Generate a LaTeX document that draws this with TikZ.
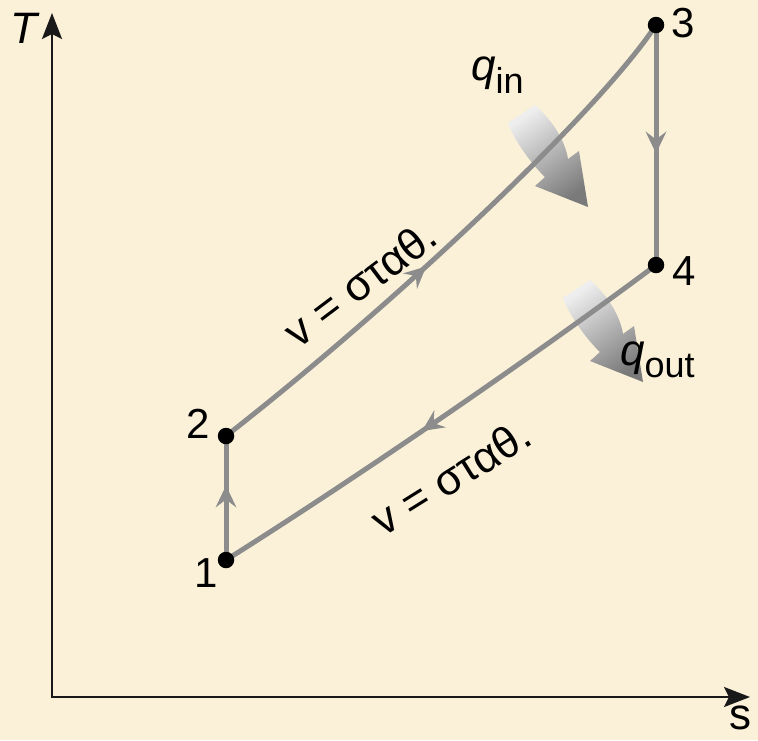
\documentclass[tikz,border=0pt]{standalone}
\usepackage{fontspec}
\setmainfont{Liberation Sans}
\usetikzlibrary{arrows.meta,decorations.markings,shadings}
\definecolor{bg}{RGB}{251,241,216}
\definecolor{cyc}{RGB}{140,140,140}
\definecolor{axc}{RGB}{25,25,25}
\definecolor{shlight}{RGB}{238,238,238}
\definecolor{shdark}{RGB}{122,122,122}
\begin{document}
\begin{tikzpicture}[x=1pt,y=-1pt,
  cycline/.style={draw=cyc,line width=5pt},
  midarrow/.style={postaction={decorate,decoration={markings,mark=at position #1 with {\fill[cyc] (0pt,0pt) -- (-22pt,10.5pt) .. controls (-17pt,4pt) .. (-14pt,0pt) .. controls (-17pt,-4pt) .. (-22pt,-10.5pt) -- cycle;}}}},
  dot/.style={circle,fill=black,inner sep=0pt,minimum size=16.5pt},
  num/.style={font=\fontsize{42}{42}\selectfont},
  axlab/.style={font=\fontsize{44}{44}\selectfont},
  axline/.style={draw=axc,line width=2.5pt,line join=miter},
  cyctext/.style={font=\fontsize{44}{44}\selectfont,inner sep=0pt},
  qlab/.style={font=\fontsize{44}{44}\selectfont,inner sep=0pt,anchor=base west},
  heat/.style={top color=shlight,bottom color=shdark,shading angle=35}
]
\useasboundingbox (0,0) rectangle (758,740);
\fill[bg] (0,0) rectangle (758,740);

% axes
\coordinate (ytip) at (52,13);
\coordinate (org) at (52,697);
\coordinate (xtip) at (750,697);
\draw[axline,{Stealth[length=26pt,width=20pt,inset=5pt]}-{Stealth[length=26pt,width=20pt,inset=5pt]}] (ytip) -- (org) -- (xtip);
\node[axlab] (T) at (25,28) {\textit{T}};
\node[axlab] (s) at (740,718) {s};

% state points
\coordinate (c1) at (226,560);
\coordinate (c2) at (226,436);
\coordinate (c3) at (656,25);
\coordinate (c4) at (656,265);

% heat arrows
\shade[heat] (508,123) -- (535,105) .. controls (552,120) and (565,140) .. (568,159) -- (579,151) -- (588,207) -- (535,186) -- (545,177) .. controls (532,165) and (514,140) .. (508,123) -- cycle;
\begin{scope}[shift={(55,175)}]
\shade[heat] (508,123) -- (535,105) .. controls (552,120) and (565,140) .. (568,159) -- (579,151) -- (588,207) -- (535,186) -- (545,177) .. controls (532,165) and (514,140) .. (508,123) -- cycle;
\end{scope}

% cycle
\draw[cycline,midarrow=0.60] (c1) -- (c2);
\draw[cycline,midarrow=0.44] (c2) .. controls (400,300) and (600,110) .. (c3);
\draw[cycline,midarrow=0.535] (c3) -- (c4);
\draw[cycline,midarrow=0.55] (c4) .. controls (560,337) and (380,463) .. (c1);

\node[dot] (p1) at (c1) {};
\node[dot] (p2) at (c2) {};
\node[dot] (p3) at (c3) {};
\node[dot] (p4) at (c4) {};
\node[num] (n1) at (206,573) {1};
\node[num] (n2) at (198,424) {2};
\node[num] (n3) at (683,23) {3};
\node[num] (n4) at (684,271) {4};

\node[cyctext,rotate=37] (v1) at (360,283) {v = σταθ.};
\node[cyctext,rotate=32] (v2) at (451,477) {v = σταθ.};

\node[qlab] (qin) at (471,80) {\textit{q}\raisebox{-13pt}{\fontsize{36}{36}\selectfont in}};
\node[qlab] (qout) at (620,365) {\textit{q}\raisebox{-12pt}{\fontsize{36}{36}\selectfont out}};
\end{tikzpicture}
\end{document}
